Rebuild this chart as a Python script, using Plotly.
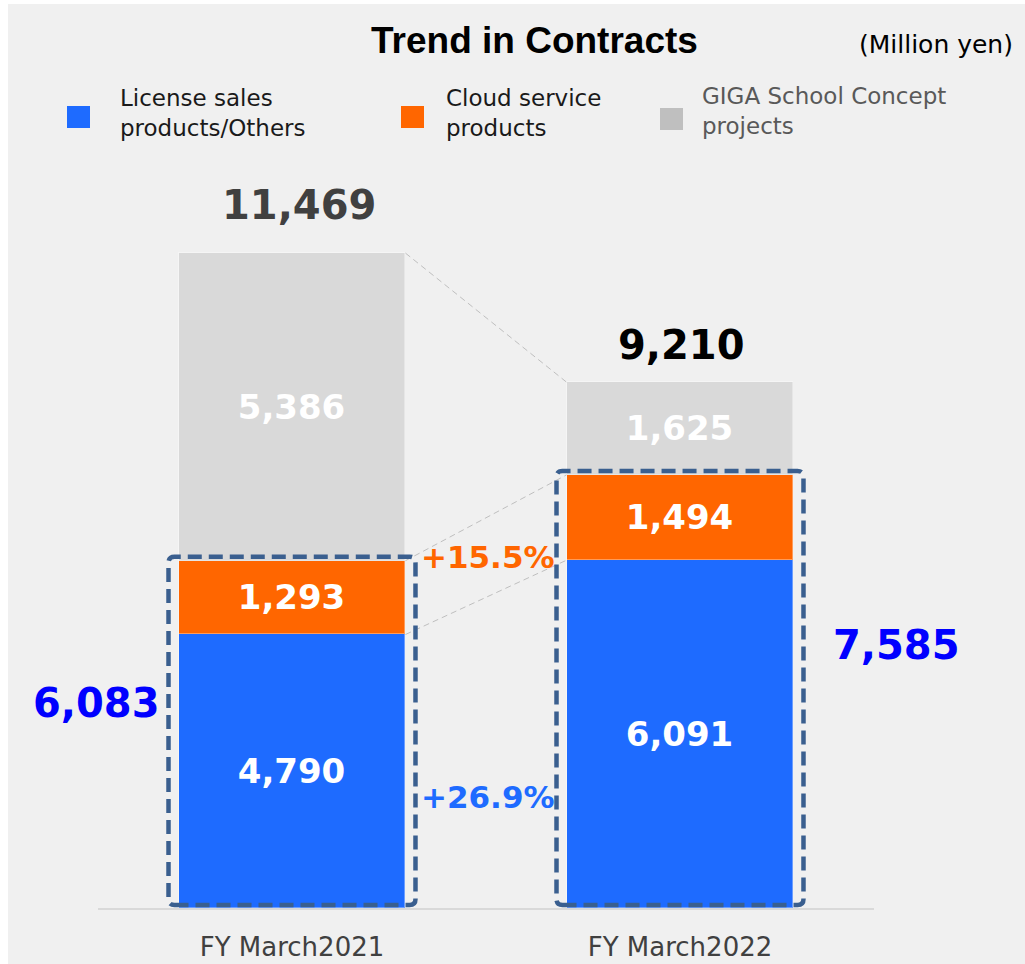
import plotly.graph_objects as go

# ---- data (million yen) ----
categories = ["FY March2021", "FY March2022"]
license_sales = [4790, 6091]
cloud_service = [1293, 1494]
giga_school = [5386, 1625]
growth_labels = ["+15.5%", "+26.9%"]
series_names = ["License sales<br>products/Others", "Cloud service<br>products",
                "GIGA School Concept<br>projects"]

core_totals = [a + b for a, b in zip(license_sales, cloud_service)]
grand_totals = [c + g for c, g in zip(core_totals, giga_school)]

# ---- styling ----
BLUE = "#1e6bff"
ORANGE = "#ff6600"
GREY = "#d9d9d9"
BOX = "#3a5f8f"
BG = "#f0f0f0"
FONT = "DejaVu Sans"

W, H = 1025, 964
ML, MR, MT, MB = 98, 151, 160, 56
PW, PH = W - ML - MR, H - MT - MB
YMAX = 13100
XR = [-0.5, 1.5]
BAR_W = 0.585

PX_PER_X = PW / (XR[1] - XR[0])
PX_PER_Y = PH / YMAX


def px_x(px):
    return (px - ML) / PW


def px_y(py):
    return (H - MB - py) / PH


xs = list(range(len(categories)))

fig = go.Figure()
for vals, color, name in [(license_sales, BLUE, series_names[0]),
                          (cloud_service, ORANGE, series_names[1]),
                          (giga_school, GREY, series_names[2])]:
    fig.add_trace(go.Bar(
        x=xs, y=vals, name=name, width=BAR_W,
        marker=dict(color=color, line=dict(color="rgba(255,255,255,0.35)", width=1)),
        texttemplate="%{y:,}", textposition="inside", insidetextanchor="middle",
        textangle=0, constraintext="none",
        textfont=dict(family=FONT, size=34, color="white", weight="bold"),
        showlegend=False, hoverinfo="skip",
    ))

shapes = []
# white page edge
shapes.append(dict(type="rect", xref="paper", yref="paper", layer="below",
                   x0=px_x(0), x1=px_x(8), y0=px_y(H), y1=px_y(0),
                   fillcolor="white", line=dict(width=0)))
shapes.append(dict(type="rect", xref="paper", yref="paper", layer="below",
                   x0=px_x(0), x1=px_x(W), y0=px_y(4), y1=px_y(0),
                   fillcolor="white", line=dict(width=0)))

# connector lines between the stacked levels of the two bars
levels = [license_sales, core_totals, grand_totals]
for lv in levels:
    shapes.append(dict(type="line", xref="x", yref="y",
                       x0=xs[0] + BAR_W / 2, y0=lv[0], x1=xs[1] - BAR_W / 2, y1=lv[1],
                       line=dict(color="#bfbfbf", width=1, dash="6px,4px")))

# dashed rounded frames around license + cloud segments
pad_x = 10 / PX_PER_X
pad_top = 4 / PX_PER_Y
pad_bot = 3 / PX_PER_Y
rx = 6 / PX_PER_X
ry = 6 / PX_PER_Y
for i, top in zip(xs, core_totals):
    x0 = i - BAR_W / 2 - pad_x
    x1 = i + BAR_W / 2 + pad_x
    y0 = pad_bot
    y1 = top + pad_top
    path = (f"M {x0+rx},{y0} L {x1-rx},{y0} Q {x1},{y0} {x1},{y0+ry} "
            f"L {x1},{y1-ry} Q {x1},{y1} {x1-rx},{y1} L {x0+rx},{y1} "
            f"Q {x0},{y1} {x0},{y1-ry} L {x0},{y0+ry} Q {x0},{y0} {x0+rx},{y0} Z")
    shapes.append(dict(type="path", xref="x", yref="y", path=path,
                       line=dict(color=BOX, width=4.5, dash="14px,7px")))

# legend swatches
legend_items = [(67, 106, BLUE, 118, 113, "#1a1a1a"),
                (401, 106, ORANGE, 444, 113, "#1a1a1a"),
                (660, 108, "#bfbfbf", 700, 111, "#595959")]
annotations = []
for (sx, sy, col, tx, ty, tcol), name in zip(legend_items, series_names):
    shapes.append(dict(type="rect", xref="paper", yref="paper",
                       x0=px_x(sx), x1=px_x(sx + 23), y0=px_y(sy + 22), y1=px_y(sy),
                       fillcolor=col, line=dict(width=0)))
    annotations.append(dict(xref="paper", yref="paper", x=px_x(tx), y=px_y(ty),
                            xanchor="left", yanchor="middle", align="left",
                            text=name, showarrow=False,
                            font=dict(family=FONT, size=23, color=tcol)))

# title and unit
annotations.append(dict(xref="paper", yref="paper", x=px_x(534), y=px_y(40),
                        xanchor="center", yanchor="middle", showarrow=False,
                        text="<b>Trend in Contracts</b>",
                        font=dict(family="Liberation Sans", size=37, color="black")))
annotations.append(dict(xref="paper", yref="paper", x=px_x(936), y=px_y(44),
                        xanchor="center", yanchor="middle", showarrow=False,
                        text="(Million yen)",
                        font=dict(family=FONT, size=25, color="black")))

# grand totals above bars
for i, tot, col, shift, xsh in zip(xs, grand_totals, ["#404040", "black"], [48, 37], [7, 1]):
    annotations.append(dict(x=i, y=tot, xref="x", yref="y", yanchor="middle",
                            yshift=shift, xshift=xsh, showarrow=False, text=f"{tot:,}",
                            font=dict(family=FONT, size=40, color=col, weight="bold")))

# license + cloud totals beside bars
for (cx, cy), tot in zip([(96, 703), (897, 645)], core_totals):
    annotations.append(dict(xref="paper", yref="paper", x=px_x(cx), y=px_y(cy),
                            xanchor="center", yanchor="middle", showarrow=False,
                            text=f"{tot:,}",
                            font=dict(family=FONT, size=40, color="#0000ff", weight="bold")))

# growth rates between bars
for (cx, cy), lab, col in zip([(488, 557), (488, 797)], growth_labels, [ORANGE, BLUE]):
    annotations.append(dict(xref="paper", yref="paper", x=px_x(cx), y=px_y(cy),
                            xanchor="center", yanchor="middle", showarrow=False,
                            text=lab,
                            font=dict(family=FONT, size=31, color=col, weight="bold")))

fig.update_layout(
    width=W, height=H,
    margin=dict(l=ML, r=MR, t=MT, b=MB, pad=0, autoexpand=False),
    paper_bgcolor=BG, plot_bgcolor=BG,
    barmode="stack", bargap=0,
    shapes=shapes, annotations=annotations,
    xaxis=dict(range=XR, tickvals=xs, ticktext=categories, showgrid=False,
               zeroline=False, showline=True, linecolor="#d9d9d9", linewidth=2,
               ticks="", ticklabelstandoff=15, automargin=False,
               tickfont=dict(family=FONT, size=26, color="#404040"),
               fixedrange=True),
    yaxis=dict(range=[0, YMAX], visible=False, showgrid=False, zeroline=False,
               automargin=False, fixedrange=True),
)

fig.write_html("out.html")
